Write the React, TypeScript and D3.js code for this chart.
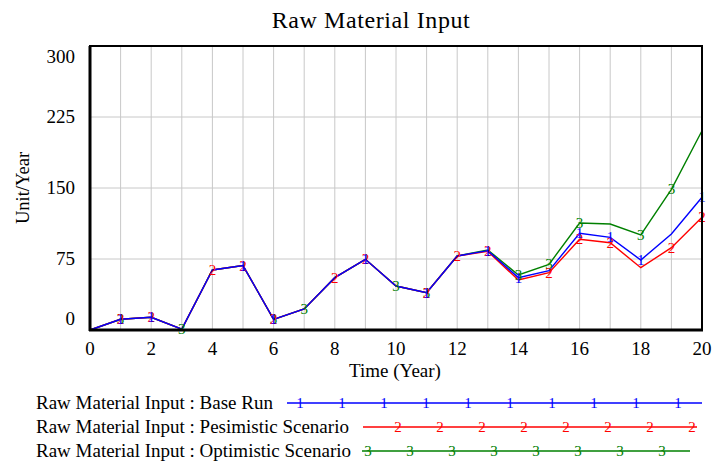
import React from "react";
import * as d3 from "d3";

const years = d3.range(0, 21);
const baseRun = [0, 11.3, 13.4, 1, 63.4, 68, 11.3, 22.2, 55.3, 74.7, 46.5, 39.4, 78.2, 83.8, 55.3, 62.7, 102.1, 97.9, 73.9, 101.4, 140.2];
const pessimistic = [0, 11.3, 13.4, 1, 63.4, 68, 11.3, 22.2, 55.3, 74.7, 46.5, 39.4, 78.2, 83, 52.8, 60.5, 95.8, 92.2, 65.8, 87, 119];
const optimistic = [0, 11.3, 13.4, 1, 63.4, 68, 11.3, 22.2, 55.3, 74.7, 46.5, 39.4, 78.2, 84.6, 58.1, 69.4, 113, 112, 100.4, 148.6, 210.5];
const markers1 = [1, 2, 5, 6, 9, 11, 13, 14, 16, 17, 18, 20];
const markers2 = [1, 2, 4, 5, 6, 8, 9, 11, 12, 13, 15, 16, 17, 19, 20];
const markers3 = [1, 3, 6, 7, 10, 11, 14, 15, 16, 18, 19];
const yTicks = [0, 75, 150, 225, 300];
const xTicks = d3.range(0, 21, 2);
const seriesNames = ["Raw Material Input : Base Run", "Raw Material Input : Pesimistic Scenario", "Raw Material Input : Optimistic Scenario"];

const FONT = "'Liberation Serif', 'Times New Roman', serif";

export default function App() {
  const W = 713, H = 463;
  const left = 90, right = 702, top = 46, bottom = 330;
  const x = d3.scaleLinear().domain([0, 20]).range([left, right]);
  const y = d3.scaleLinear().domain([0, 300]).range([bottom, top]);
  const line = d3.line<number>().x((_, i) => x(years[i])).y((d) => y(d));

  const series = [
    { data: optimistic, color: "#008000", label: "3", marks: markers3 },
    { data: pessimistic, color: "#ff0000", label: "2", marks: markers2 },
    { data: baseRun, color: "#0000ff", label: "1", marks: markers1 },
  ];

  const legend = [
    { name: seriesNames[0], color: "#0000ff", label: "1", x0: 287, x1: 702, m0: 300, n: 10, y: 403 },
    { name: seriesNames[1], color: "#ff0000", label: "2", x0: 363, x1: 697, m0: 398, n: 8, y: 427 },
    { name: seriesNames[2], color: "#008000", label: "3", x0: 362, x1: 690, m0: 368, n: 8, y: 451 },
  ];

  const yLabelPos = (v: number) => (v === 300 ? y(v) + 11 : v === 0 ? y(v) - 11 : y(v));

  return (
    <svg width={W} height={H} style={{ position: "absolute", left: 0, top: 0, background: "#fff" }} fontFamily={FONT}>
      <rect width={W} height={H} fill="#fff" />
      <text x={371} y={28} textAnchor="middle" fontSize={24} letterSpacing={0.6}>Raw Material Input</text>
      {years.map((t) => (
        <line key={"gx" + t} x1={x(t)} x2={x(t)} y1={top} y2={bottom} stroke="#c8c8c8" strokeWidth={1} />
      ))}
      {yTicks.map((v) => (
        <line key={"gy" + v} x1={left} x2={right} y1={y(v)} y2={y(v)} stroke="#c8c8c8" strokeWidth={1} />
      ))}
      {series.map((s) => (
        <path key={s.label} d={line(s.data) || ""} fill="none" stroke={s.color} strokeWidth={1.4} />
      ))}
      {series.map((s) =>
        s.marks.map((t) => (
          <text key={s.label + "m" + t} x={x(t)} y={y(s.data[t]) + 5} textAnchor="middle" fontSize={15} fill={s.color}>
            {s.label}
          </text>
        ))
      )}
      <rect x={left} y={top} width={right - left} height={bottom - top} fill="none" stroke="#000" strokeWidth={2} />
      <line x1={left} x2={left} y1={top} y2={bottom + 1} stroke="#000" strokeWidth={3} />
      <line x1={left - 1} x2={right + 1} y1={bottom} y2={bottom} stroke="#000" strokeWidth={3} />
      {yTicks.map((v) => (
        <text key={"yl" + v} x={75} y={yLabelPos(v) + 6} textAnchor="end" fontSize={19}>{v}</text>
      ))}
      {xTicks.map((t) => (
        <text key={"xl" + t} x={x(t)} y={355} textAnchor="middle" fontSize={19}>{t}</text>
      ))}
      <text x={395} y={377} textAnchor="middle" fontSize={19}>Time (Year)</text>
      <text transform="translate(29,188) rotate(-90)" textAnchor="middle" fontSize={18.5}>Unit/Year</text>
      {legend.map((l) => (
        <g key={l.label}>
          <text x={36} y={l.y + 6} fontSize={19}>{l.name}</text>
          <line x1={l.x0} x2={l.x1} y1={l.y} y2={l.y} stroke={l.color} strokeWidth={1.4} />
          {d3.range(l.n).map((i) => (
            <text key={i} x={l.m0 + i * 42} y={l.y + 5} textAnchor="middle" fontSize={15} fill={l.color}>{l.label}</text>
          ))}
        </g>
      ))}
    </svg>
  );
}
